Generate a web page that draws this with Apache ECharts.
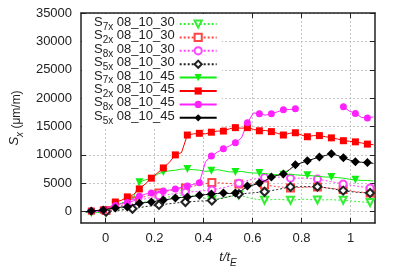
<!DOCTYPE html>
<html>
<head>
<meta charset="utf-8">
<script src="https://cdn.jsdelivr.net/npm/echarts@6/dist/echarts.min.js"></script>
<style>
html, body { margin: 0; background: #fff; }
#chart { width: 399px; height: 279px; }
</style>
</head>
<body>
<div id="chart"></div>
<script>
// time grid (t/tE) for the 08_10_45 runs
var t45 = [-0.083, -0.058, -0.034, -0.009, 0.016, 0.04, 0.065, 0.089, 0.114, 0.138, 0.163, 0.187,
    0.212, 0.236, 0.261, 0.285, 0.31, 0.334, 0.359, 0.383, 0.408, 0.432, 0.457, 0.481, 0.506,
    0.53, 0.555, 0.579, 0.604, 0.628, 0.653, 0.677, 0.702, 0.726, 0.751, 0.775, 0.8, 0.824,
    0.849, 0.873, 0.898, 0.922, 0.947, 0.971, 0.996, 1.02, 1.045, 1.069, 1.094];
// time grid for the 08_10_30 runs
var t30 = [-0.08, 0.002, 0.056, 0.11, 0.164, 0.218, 0.272, 0.326, 0.38, 0.434, 0.489, 0.544,
    0.597, 0.649, 0.702, 0.755, 0.81, 0.865, 0.918, 0.97, 1.025, 1.08, 1.094];

var s7x45 = [0, -300, -100, -300, 500, 1100, 1500, 1900, 2500, 5200, 5600, 5900, 6600, 7000, 7200,
    7300, 7500, 7500, 7400, 7300, 7100, 7200, 7400, 7200, 7000, 7000, 7100, 6900, 6800, 6800, 6700,
    6600, 6500, 6500, 6600, 6500, 6400, 6400, 6300, 6200, 6100, 6100, 6000, 5900, 5700, 5600, 5500,
    5500, 5400];
var s2x45 = [0, 100, 200, 300, 600, 1700, 2000, 2600, 3000, 4000, 4900, 5900, 6800, 7700, 8700,
    10000, 10400, 13500, 13700, 13800, 13700, 14000, 14200, 14200, 14600, 14800, 14700, 14800, 14500,
    14250, 14300, 14100, 13800, 13500, 13800, 13900, 13500, 13200, 13400, 13400, 13200, 13000, 12800,
    12500, 12400, 12300, 12100, 11900, 11800];
var s8x45 = [0, 100, 100, 300, 700, 1100, 1400, 1600, 1900, 2700, 3100, 3300, 3500, 3650, 3800,
    4000, 4300, 4540, 4800, 5070, 8800, 9800, 10500, 11070, 11600, 12130, 13000, 15650, 17400, 17240,
    17000, 17240, 17600, 17950, 18000, 18130, null, null, null, null, null, null, null, 18500, 17700,
    17300, 16600, 16500, 16700];
var s5x45 = [0, 100, 200, 300, 500, 650, 800, 800, 1200, 1500, 1600, 1700, 1900, 2050, 2200, 2400,
    2500, 2600, 2700, 2900, 3000, 3100, 3200, 3300, 3200, 3300, 3700, 4500, 4700, 5050, 5500, 6100,
    6400, 6650, 7400, 8250, 8600, 8950, 9300, 9650, 9900, 10200, 9900, 9500, 9100, 8800, 8700, 8650,
    8500];

var s7x30 = [0, -100, 500, 1200, 1800, 2300, 2700, 3000, 2600, 2100, 2500, 2950, 2300, 2000, 2200,
    2000, 2200, 2050, 2100, 2000, 1800, 1600, 1500];
var s2x30 = [0, 200, 900, 1900, 2700, 3300, 3800, 4180, 4700, 5150, 5000, 4880, 4900, 4700, 4400,
    4180, 4300, 4360, 4100, 3900, 3500, 3300, 3200];
var s8x30 = [0, 100, 800, 1600, 2300, 2800, 3100, 3400, 3600, 3830, 4300, 5000, 5700, 6000, 6100,
    5900, 5900, 5750, 5300, 4880, 4500, 4180, 4100];
var s5x30 = [-100, 0, 250, 500, 900, 1180, 1450, 1700, 1850, 1950, 2500, 3100, 3300, 3500, 3900,
    4360, 4400, 4400, 4100, 3700, 3400, 3300, 3200];

var xTicks = [0, 0.2, 0.4, 0.6, 0.8, 1];
var yTicks = [0, 5000, 10000, 15000, 20000, 25000, 30000, 35000];

var FONT = '"Liberation Sans", Arial, sans-serif';

// marker only on some points, the rest are plain line vertices
function pts(ts, ys, first, every) {
    var out = [];
    for (var i = 0; i < ts.length; i++) {
        var item = { value: [ts[i], ys[i] === null ? '-' : ys[i]] };
        if (i < first || (i - first) % every !== 0) item.symbol = 'none';
        out.push(item);
    }
    return out;
}

function mkSeries(name, color, dotted, symbol, size, rotate, data) {
    return {
        name: name,
        type: 'line',
        data: data,
        symbol: symbol,
        symbolSize: size,
        symbolRotate: rotate,
        showAllSymbol: true,
        connectNulls: false,
        animation: false,
        itemStyle: { color: color },
        lineStyle: { color: color, width: 1, type: dotted ? [2, 2] : 'solid' },
        z: dotted ? 2 : 3
    };
}

var series = [
    mkSeries('S|7x|08_10_30', '#33ee33', true, 'emptyTriangle', 7, 180, pts(t30, s7x30, 1, 2)),
    mkSeries('S|2x|08_10_30', '#ff4444', true, 'emptyRect', 7, 0, pts(t30, s2x30, 1, 2)),
    mkSeries('S|8x|08_10_30', '#ff44ff', true, 'emptyCircle', 7, 0, pts(t30, s8x30, 1, 2)),
    mkSeries('S|5x|08_10_30', '#222222', true, 'emptyDiamond', 8, 0, pts(t30, s5x30, 1, 2)),
    mkSeries('S|7x|08_10_45', '#11ee11', false, 'triangle', 8, 180, pts(t45, s7x45, 1, 4)),
    mkSeries('S|2x|08_10_45', '#ff0000', false, 'rect', 7, 0, pts(t45, s2x45, 1, 2)),
    mkSeries('S|8x|08_10_45', '#ff22ff', false, 'circle', 7, 0, pts(t45, s8x45, 1, 2)),
    mkSeries('S|5x|08_10_45', '#000000', false, 'diamond', 9, 0, pts(t45, s5x45, 1, 2))
];

var gridLine = { show: true, lineStyle: { color: '#c4c4c4', type: [2, 2], width: 1 } };
var frame = { show: true, onZero: false, lineStyle: { color: '#222', width: 1.5 } };

var nameRich = {
    i: { fontSize: 13, fontStyle: 'italic', fontFamily: FONT, color: '#222', verticalAlign: 'top', lineHeight: 17 },
    sub: { fontSize: 10, fontStyle: 'italic', fontFamily: FONT, color: '#222', verticalAlign: 'bottom', lineHeight: 17 }
};

function xAxis(pos, labels) {
    return {
        type: 'value', position: pos, min: -0.1, max: 1.1,
        axisLine: frame,
        axisTick: { show: true, inside: true, length: 5, customValues: xTicks, lineStyle: { color: '#222' } },
        axisLabel: { show: labels, customValues: xTicks, margin: 9, fontSize: 13, color: '#222', fontFamily: FONT },
        splitLine: labels ? gridLine : { show: false },
        name: labels ? '{i|t}{i|/t}{sub|E}' : '',
        nameLocation: 'middle', nameGap: 28,
        nameTextStyle: { rich: nameRich }
    };
}

function yAxis(pos, labels) {
    return {
        type: 'value', position: pos, min: -2000, max: 35000,
        axisLine: frame,
        axisTick: { show: true, inside: true, length: 5, customValues: yTicks, lineStyle: { color: '#222' } },
        axisLabel: {
            show: labels, customValues: yTicks, margin: 9, fontSize: 13, color: '#222', fontFamily: FONT,
            formatter: function (v) { return String(v); }
        },
        splitLine: labels ? gridLine : { show: false },
        name: labels ? '{i|S}{sub|x} (\u03bcm/m)' : '',
        nameLocation: 'middle', nameGap: 56, nameRotate: 90,
        nameTextStyle: { rich: nameRich }
    };
}

var chart = echarts.init(document.getElementById('chart'));
chart.setOption({
    animation: false,
    backgroundColor: '#fff',
    grid: { left: 81, right: 24, top: 13, bottom: 56 },
    xAxis: [xAxis('bottom', true), xAxis('top', false)],
    yAxis: [yAxis('left', true), yAxis('right', false)],
    legend: {
        orient: 'vertical',
        left: 82, top: 14,
        align: 'right',
        backgroundColor: '#fff',
        padding: [2, 4, 2, 12],
        itemGap: -2.6,
        itemWidth: 37,
        itemHeight: 9,
        formatter: function (name) {
            var p = name.split('|');
            return '{s|' + p[0] + '}{sub|' + p[1] + '}{s| ' + p[2] + '}';
        },
        textStyle: {
            rich: {
                s: { fontSize: 13, fontFamily: FONT, color: '#222', verticalAlign: 'top', lineHeight: 13 },
                sub: { fontSize: 10, fontFamily: FONT, color: '#222', verticalAlign: 'bottom', lineHeight: 16 }
            }
        },
        data: series.map(function (s) { return s.name; })
    },
    series: series
});
</script>
</body>
</html>
